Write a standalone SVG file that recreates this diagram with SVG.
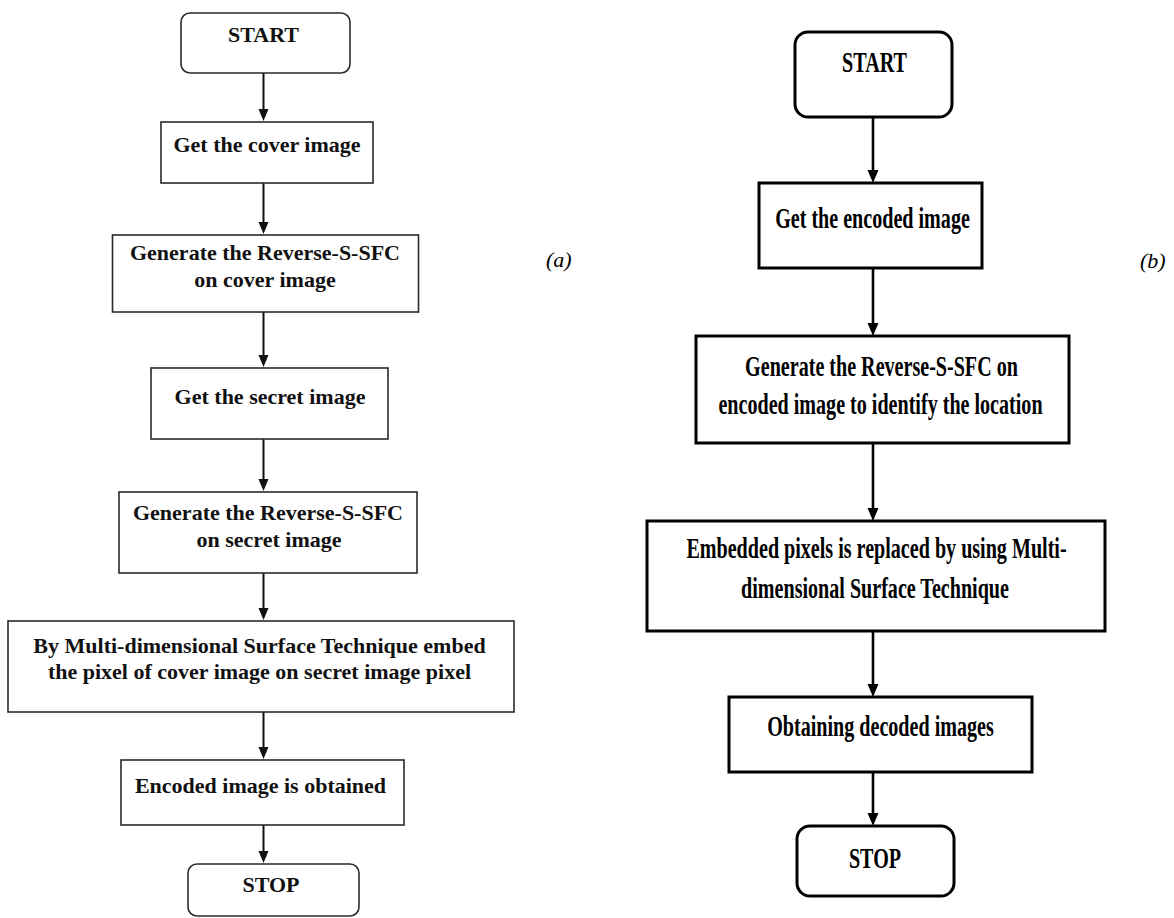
<svg xmlns="http://www.w3.org/2000/svg" width="1174" height="918" viewBox="0 0 1174 918">
<style>
.bg{fill:#fff}
.la{fill:#fff;stroke:#2a2a2a;stroke-width:1.6}
.ra{fill:#fff;stroke:#000;stroke-width:3}
.tl{font-family:"Liberation Serif","Times New Roman",serif;font-weight:bold;font-size:22px;fill:#111;text-anchor:middle}
.tr{font-family:"Liberation Serif","Times New Roman",serif;font-weight:bold;font-size:30px;fill:#000;text-anchor:middle}
.lab{font-family:"Liberation Serif","Times New Roman",serif;font-style:italic;font-size:22px;fill:#000}
.cl{stroke:#111;stroke-width:2;fill:none}
.cr{stroke:#000;stroke-width:2.6;fill:none}
.hl{fill:#111}
.hr{fill:#000}
</style>
<rect class="bg" x="0" y="0" width="1174" height="918"/>

<g id="connectors">
<line class="cl" x1="263.5" y1="73" x2="263.5" y2="109"/>
<line class="cl" x1="263.5" y1="183" x2="263.5" y2="222"/>
<line class="cl" x1="263.5" y1="312" x2="263.5" y2="355"/>
<line class="cl" x1="263.5" y1="439" x2="263.5" y2="479"/>
<line class="cl" x1="263.5" y1="573" x2="263.5" y2="608"/>
<line class="cl" x1="263.5" y1="712" x2="263.5" y2="747"/>
<line class="cl" x1="263.5" y1="825" x2="263.5" y2="851"/>
<path class="hl" d="M258.5,109 L268.5,109 L263.5,121 Z"/>
<path class="hl" d="M258.5,222 L268.5,222 L263.5,234 Z"/>
<path class="hl" d="M258.5,355 L268.5,355 L263.5,367 Z"/>
<path class="hl" d="M258.5,479 L268.5,479 L263.5,491 Z"/>
<path class="hl" d="M258.5,608 L268.5,608 L263.5,620 Z"/>
<path class="hl" d="M258.5,747 L268.5,747 L263.5,759 Z"/>
<path class="hl" d="M258.5,851 L268.5,851 L263.5,863 Z"/>

<line class="cr" x1="873" y1="117" x2="873" y2="170"/>
<line class="cr" x1="873" y1="268" x2="873" y2="323"/>
<line class="cr" x1="873" y1="443" x2="873" y2="508"/>
<line class="cr" x1="873" y1="631" x2="873" y2="684"/>
<line class="cr" x1="873" y1="772" x2="873" y2="813"/>
<path class="hr" d="M867.5,170 L878.5,170 L873,183 Z"/>
<path class="hr" d="M867.5,323 L878.5,323 L873,336 Z"/>
<path class="hr" d="M867.5,508 L878.5,508 L873,521 Z"/>
<path class="hr" d="M867.5,684 L878.5,684 L873,697 Z"/>
<path class="hr" d="M867.5,813 L878.5,813 L873,826 Z"/>
</g>

<g id="a-start"><rect class="la" x="181" y="13" width="169" height="60" rx="9"/><text class="tl" x="263.5" y="42">START</text></g>
<g id="a-cover"><rect class="la" x="161" y="122" width="212" height="61"/><text class="tl" x="267" y="152">Get the cover image</text></g>
<g id="a-gen-cover"><rect class="la" x="112.5" y="235" width="306" height="77"/><text class="tl" x="265" y="260">Generate the Reverse-S-SFC</text><text class="tl" x="265" y="287">on cover image</text></g>
<g id="a-secret"><rect class="la" x="151" y="368" width="237" height="71"/><text class="tl" x="270" y="404">Get the secret image</text></g>
<g id="a-gen-secret"><rect class="la" x="119" y="492" width="298" height="81"/><text class="tl" x="268" y="520">Generate the Reverse-S-SFC</text><text class="tl" x="269" y="547">on secret image</text></g>
<g id="a-embed"><rect class="la" x="8" y="621" width="506" height="91"/><text class="tl" x="259.5" y="653">By Multi-dimensional Surface Technique embed</text><text class="tl" x="259.5" y="679">the pixel of cover image on secret image pixel</text></g>
<g id="a-encoded"><rect class="la" x="121" y="760" width="283" height="65"/><text class="tl" x="260.5" y="793">Encoded image is obtained</text></g>
<g id="a-stop"><rect class="la" x="188" y="864" width="171" height="52" rx="9"/><text class="tl" x="271" y="892">STOP</text></g>
<g id="label-a"><text class="lab" x="546" y="267">(a)</text></g>

<g id="b-start"><rect class="ra" x="795" y="32" width="157" height="85" rx="13"/><text class="tr" transform="translate(874.5,72) scale(0.67,1)">START</text></g>
<g id="b-encoded"><rect class="ra" x="759" y="183" width="223" height="85"/><text class="tr" transform="translate(872.5,228) scale(0.67,1)">Get the encoded image</text></g>
<g id="b-generate"><rect class="ra" x="696" y="336" width="373" height="107"/><text class="tr" transform="translate(881.5,376) scale(0.67,1)">Generate the Reverse-S-SFC on</text><text class="tr" transform="translate(880.5,414) scale(0.67,1)">encoded image to identify the location</text></g>
<g id="b-replace"><rect class="ra" x="647" y="521" width="458" height="110"/><text class="tr" transform="translate(876.5,558) scale(0.67,1)">Embedded pixels is replaced by using Multi-</text><text class="tr" transform="translate(875,598) scale(0.67,1)">dimensional Surface Technique</text></g>
<g id="b-decoded"><rect class="ra" x="729" y="697" width="303" height="75"/><text class="tr" transform="translate(880.5,736) scale(0.67,1)">Obtaining decoded images</text></g>
<g id="b-stop"><rect class="ra" x="797" y="826" width="157" height="70" rx="13"/><text class="tr" transform="translate(875,868) scale(0.67,1)">STOP</text></g>
<g id="label-b"><text class="lab" x="1140" y="268">(b)</text></g>
</svg>
